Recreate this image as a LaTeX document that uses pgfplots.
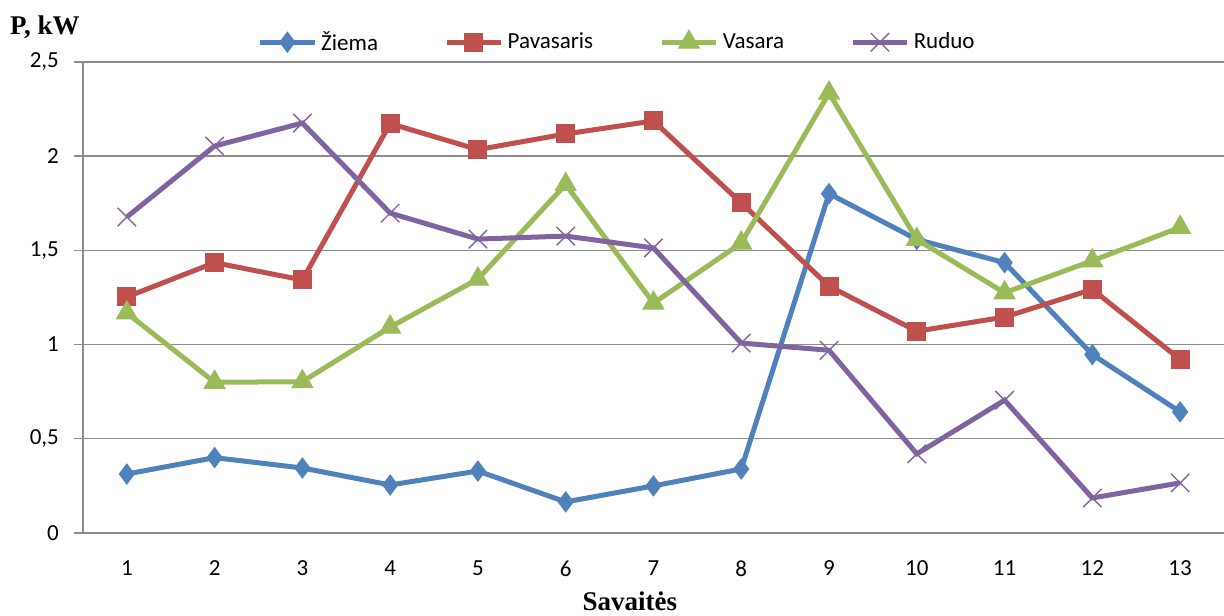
\documentclass[border=0pt]{standalone}
\usepackage{pgfplots}
\pgfplotsset{compat=1.18}
\usepackage{fontspec}
\setmainfont{Carlito}
\newfontfamily\tnr{Liberation Serif}
\definecolor{cBlue}{HTML}{4F81BD}
\definecolor{cRed}{HTML}{C0504D}
\definecolor{cGreen}{HTML}{9BBB59}
\definecolor{cPurple}{HTML}{8064A2}
\definecolor{gridc}{HTML}{8C8C8C}
\begin{document}
\begin{tikzpicture}
\begin{axis}[
  scale only axis,
  width=570.5pt, height=235.5pt,
  xmin=0.5, xmax=13.5,
  ymin=0, ymax=2.5,
  xtick={1,...,13},
  ytick={0,0.5,1,1.5,2,2.5},
  yticklabels={0,{0,5},1,{1,5},2,{2,5}},
  /pgf/number format/assume math mode=true,
  ymajorgrids,
  grid style={gridc, line width=0.7pt},
  axis x line*=bottom,
  axis y line*=left,
  axis line style={gridc, line width=0.7pt},
  x axis line style={-},
  y axis line style={-},
  xtick style={draw=none},
  ytick style={gridc, line width=0.7pt},
  tick align=outside,
  major tick length=4.5pt,
  tick label style={font=\fontsize{11.5}{13}\selectfont, text=black},
  xticklabel style={yshift=-6pt},
  yticklabel style={xshift=-4pt},
  clip=false,
  legend style={draw=none, fill=none, at={(0.469,1.042)}, anchor=center,
    legend columns=4, font=\fontsize{11.5}{13}\selectfont,
    /tikz/every even column/.append style={column sep=31pt},
    inner sep=0pt},
  legend cell align=left,
  legend image code/.code={\draw[mark repeat=2,mark phase=2] plot coordinates {(0cm,0cm)(0.48cm,0cm)(0.96cm,0cm)};},
  every axis plot/.append style={line width=2.5pt},
]
\addplot[color=cBlue, mark=diamond*, mark size=5pt, mark options={solid, line width=0.5pt, fill=cBlue}]
 coordinates {(1,0.313)(2,0.400)(3,0.345)(4,0.255)(5,0.329)(6,0.165)(7,0.250)(8,0.340)(9,1.801)(10,1.558)(11,1.435)(12,0.947)(13,0.643)};
\addlegendentry{Žiema}
\addplot[color=cRed, mark=square*, mark size=4.5pt, mark options={solid, line width=0.5pt, fill=cRed}]
 coordinates {(1,1.253)(2,1.435)(3,1.343)(4,2.173)(5,2.035)(6,2.118)(7,2.187)(8,1.752)(9,1.310)(10,1.071)(11,1.146)(12,1.293)(13,0.921)};
\addlegendentry{Pavasaris}
\addplot[color=cGreen, mark=triangle*, mark size=6pt, mark options={solid, line width=0.5pt, fill=cGreen}]
 coordinates {(1,1.168)(2,0.800)(3,0.803)(4,1.093)(5,1.348)(6,1.850)(7,1.220)(8,1.539)(9,2.335)(10,1.558)(11,1.275)(12,1.445)(13,1.622)};
\addlegendentry{Vasara}
\addplot[color=cPurple, mark=x, mark size=6.5pt, mark options={solid, line width=0.7pt}]
 coordinates {(1,1.677)(2,2.054)(3,2.176)(4,1.698)(5,1.560)(6,1.576)(7,1.513)(8,1.008)(9,0.970)(10,0.420)(11,0.705)(12,0.186)(13,0.266)};
\addlegendentry{Ruduo}
\node[font=\tnr\bfseries\fontsize{13.5}{15}\selectfont, anchor=base, inner sep=0pt] at (rel axis cs:-0.0333,1.0573) {P, kW};
\node[font=\tnr\bfseries\fontsize{13.5}{15}\selectfont, anchor=base, inner sep=0pt] at (rel axis cs:0.4794,-0.1655) {Savaitės};
\coordinate (bbl) at (rel axis cs:-0.0727,-0.1762);
\coordinate (btr) at (rel axis cs:1.0,1.1316);
\end{axis}
\pgfresetboundingbox
\useasboundingbox (bbl) rectangle (btr);
\end{tikzpicture}
\end{document}
